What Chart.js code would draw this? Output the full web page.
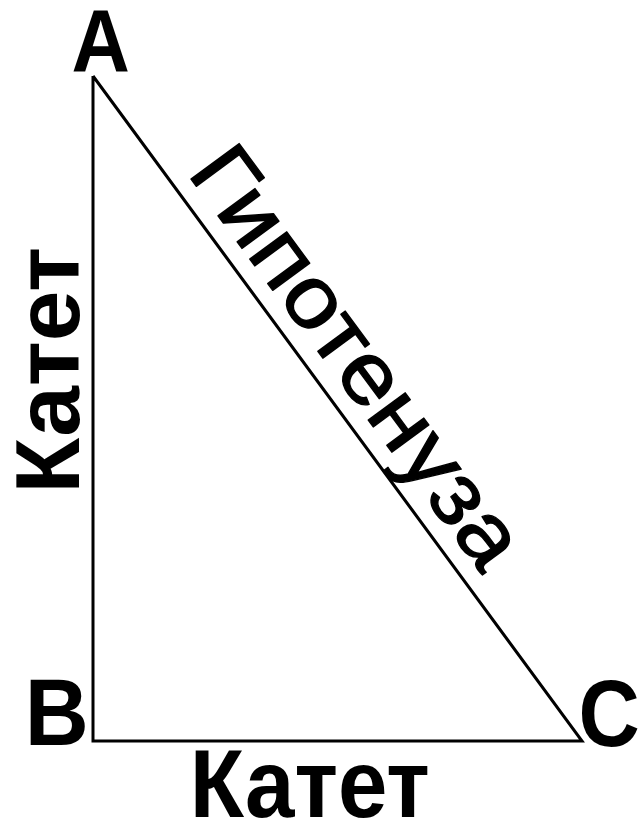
<!DOCTYPE html>
<html>
<head>
<meta charset="utf-8">
<script src="https://cdn.jsdelivr.net/npm/chart.js@4"></script>
<style>
  html, body { margin: 0; padding: 0; background: #fff; }
  canvas { display: block; }
</style>
</head>
<body>
<canvas id="tri" width="639" height="822"></canvas>
<script>
// вершины треугольника (B - прямой угол)
var vertexNames = ['A', 'B', 'C'];
var vertexX = [0, 0, 489];
var vertexY = [665, 0, 0];
// подписи сторон: AB, BC, AC
var sideNames = ['Катет', 'Катет', 'Гипотенуза'];

// замкнутый контур A-B-C-A
var pts = [];
for (var i = 0; i <= vertexX.length; i++) {
    var k = i % vertexX.length;
    pts.push({ x: vertexX[k], y: vertexY[k] });
}

// текст, вписанный в заданную длину и высоту
function drawFit(ctx, text, cx, cy, angle, length, cap, weight, refText, extra) {
    ctx.save();
    ctx.translate(cx, cy);
    ctx.rotate(angle);
    ctx.font = weight + ' 100px "Liberation Sans", Arial, sans-serif';
    var m = ctx.measureText(text);
    var r = ctx.measureText(refText || text);
    var inkW = m.actualBoundingBoxLeft + m.actualBoundingBoxRight;
    var asc = r.actualBoundingBoxAscent, desc = r.actualBoundingBoxDescent;
    if (!refText) desc = Math.max(0, desc);
    var sx = length / inkW, sy = cap / (asc + desc);
    ctx.scale(sx, sy);
    ctx.fillStyle = '#000';
    ctx.textAlign = 'left';
    ctx.textBaseline = 'alphabetic';
    var x0 = -inkW / 2 + m.actualBoundingBoxLeft;
    var y0 = (asc - desc) / 2;
    ctx.fillText(text, x0, y0);
    if (extra) {
        ctx.lineWidth = extra;
        ctx.strokeStyle = '#000';
        ctx.lineJoin = 'round';
        ctx.strokeText(text, x0, y0);
    }
    ctx.restore();
}

var labels = {
    id: 'labels',
    afterDatasetsDraw: function(chart) {
        var ctx = chart.ctx;
        var sx = chart.scales.x, sy = chart.scales.y;
        var p = vertexX.map(function(v, i) {
            return { x: sx.getPixelForValue(v), y: sy.getPixelForValue(vertexY[i]) };
        });
        var A = p[0], B = p[1], C = p[2];

        // буквы вершин
        drawFit(ctx, vertexNames[0], A.x + 7.5, A.y - 35, 0, 55, 62, 'bold');
        drawFit(ctx, vertexNames[1], B.x - 35.5, B.y - 28.5, 0, 55, 65, 'bold');
        drawFit(ctx, vertexNames[2], C.x + 28, C.y - 28, 0, 56, 67, 'bold');

        // катет AB (вертикальный)
        drawFit(ctx, sideNames[0], (A.x + B.x) / 2 - 45.5, (A.y + B.y) / 2 - 40, -Math.PI / 2, 239, 65, 'bold');
        // катет BC
        drawFit(ctx, sideNames[1], (B.x + C.x) / 2 - 26, B.y + 43, 0, 233, 68, 'bold');

        // гипотенуза AC
        var dx = C.x - A.x, dy = C.y - A.y;
        var len = Math.sqrt(dx * dx + dy * dy);
        var ux = dx / len, uy = dy / len;
        var nx = uy, ny = -ux;
        var t = 387, off = 47.5;
        drawFit(ctx, sideNames[2], A.x + ux * t + nx * off, A.y + uy * t + ny * off,
            Math.atan2(dy, dx), 492, 61, 'normal', 'Г', 1.5);
    }
};

new Chart(document.getElementById('tri').getContext('2d'), {
    type: 'scatter',
    data: {
        datasets: [{
            data: pts,
            showLine: true,
            borderColor: '#000',
            borderWidth: 3,
            borderJoinStyle: 'miter',
            pointRadius: 0,
            fill: false,
            tension: 0
        }]
    },
    options: {
        responsive: false,
        animation: false,
        layout: { padding: 0 },
        plugins: { legend: { display: false }, tooltip: { enabled: false } },
        scales: {
            x: { type: 'linear', display: false, min: -93, max: 546 },
            y: { type: 'linear', display: false, min: -81, max: 741 }
        }
    },
    plugins: [labels]
});
</script>
</body>
</html>
